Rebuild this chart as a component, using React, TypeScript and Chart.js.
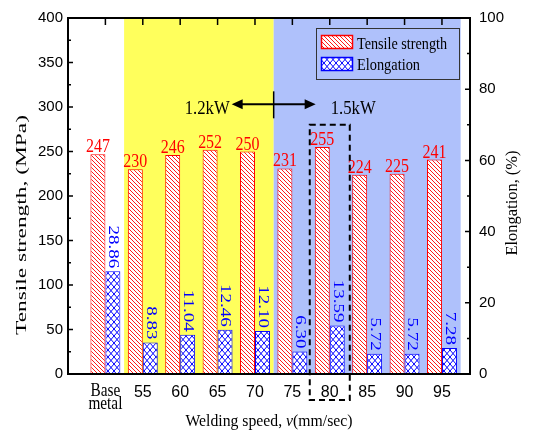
import React, { useEffect, useRef } from 'react';
import { Chart, registerables } from 'chart.js';

Chart.register(...registerables);

// ---------------- data ----------------
const categories = ['Base metal', '55', '60', '65', '70', '75', '80', '85', '90', '95'];
const tensileStrength = [247, 230, 246, 252, 250, 231, 255, 224, 225, 241];
const elongation = [28.86, 8.83, 11.04, 12.46, 12.1, 6.3, 13.59, 5.72, 5.72, 7.28];
const tensileLabels = ['247', '230', '246', '252', '250', '231', '255', '224', '225', '241'];
const elongationLabels = ['28.86', '8.83', '11.04', '12.46', '12.10', '6.30', '13.59', '5.72', '5.72', '7.28'];
const leftAxis = { min: 0, max: 400, step: 50 };
const rightAxis = { min: 0, max: 100, step: 20 };
const powerLabels = ['1.2kW', '1.5kW'];
const yellowSpan = [0.5, 4.5]; // category index span (55..70)
const blueSpan = [4.5, 9.5]; // category index span (75..95)
const highlightIndex = 6; // 80 mm/sec
const seriesNames = ['Tensile strength', 'Elongation'];

// ---------------- style ----------------
const SERIF = "'Liberation Serif', 'Times New Roman', serif";
const SANS = "'Liberation Sans', Arial, sans-serif";
const RED = '#FF0000';
const BLUE = '#0000FF';
const YELLOW_BG = '#FFFF5C';
const BLUE_BG = '#AFC1FB';

function makeHatch(color: string) {
  const s = 4;
  const c = document.createElement('canvas');
  c.width = s; c.height = s;
  const g = c.getContext('2d')!;
  g.fillStyle = '#fff';
  g.fillRect(0, 0, s, s);
  g.strokeStyle = color;
  g.lineWidth = 0.9;
  g.beginPath();
  for (const d of [-s, 0, s]) {
    g.moveTo(-1 + d, -1);
    g.lineTo(s + 1 + d, s + 1);
  }
  g.stroke();
  return g.createPattern(c, 'repeat')!;
}

function makeCross(color: string) {
  const w = 6, h = 7;
  const c = document.createElement('canvas');
  c.width = w; c.height = h;
  const g = c.getContext('2d')!;
  g.fillStyle = '#fff';
  g.fillRect(0, 0, w, h);
  g.strokeStyle = color;
  g.lineWidth = 1;
  g.beginPath();
  for (const dx of [-w, 0, w]) {
    for (const dy of [-h, 0, h]) {
      g.moveTo(dx, dy); g.lineTo(dx + w, dy + h);
      g.moveTo(dx + w, dy); g.lineTo(dx, dy + h);
    }
  }
  g.stroke();
  return g.createPattern(c, 'repeat')!;
}

type TxtOpt = {
  font: string; color?: string; align?: CanvasTextAlign; baseline?: CanvasTextBaseline;
  rot?: number; sx?: number; sy?: number; fit?: number;
};
function txt(ctx: CanvasRenderingContext2D, s: string, x: number, y: number, o: TxtOpt) {
  ctx.save();
  ctx.translate(x, y);
  if (o.rot) ctx.rotate(o.rot);
  ctx.font = o.font;
  let sx = o.sx ?? 1;
  if (o.fit) sx = o.fit / ctx.measureText(s).width;
  ctx.scale(sx, o.sy ?? 1);
  ctx.textAlign = o.align ?? 'center';
  ctx.textBaseline = o.baseline ?? 'alphabetic';
  ctx.fillStyle = o.color ?? '#000';
  ctx.fillText(s, 0, 0);
  ctx.restore();
}

export default function App() {
  const ref = useRef<HTMLCanvasElement>(null);

  useEffect(() => {
    if (!ref.current) return;
    const redPat = makeHatch(RED);
    const bluePat = makeCross(BLUE);

    const bgPlugin = {
      id: 'bg',
      beforeDatasetsDraw(chart: any) {
        const { ctx, chartArea: a, scales } = chart;
        const x = scales.x;
        ctx.save();
        ctx.fillStyle = YELLOW_BG;
        const y0 = x.getPixelForValue(yellowSpan[0]);
        const y1 = x.getPixelForValue(yellowSpan[1]);
        ctx.fillRect(y0, a.top, y1 - y0, a.bottom - a.top);
        ctx.fillStyle = BLUE_BG;
        const b0 = x.getPixelForValue(blueSpan[0]);
        const b1 = x.getPixelForValue(blueSpan[1]);
        ctx.fillRect(b0, a.top, b1 - b0, a.bottom - a.top);
        ctx.restore();
      },
    };

    const decoPlugin = {
      id: 'deco',
      afterDatasetsDraw(chart: any) {
        const { ctx, chartArea: a, scales } = chart;
        const x = scales.x, y = scales.y, y2 = scales.y2;
        ctx.save();

        // frame
        ctx.strokeStyle = '#000';
        ctx.lineWidth = 2;
        ctx.beginPath();
        ctx.rect(a.left, a.top, a.right - a.left, a.bottom - a.top);
        ctx.stroke();

        // ticks
        ctx.lineWidth = 1.5;
        ctx.beginPath();
        for (let v = leftAxis.min; v <= leftAxis.max; v += leftAxis.step / 2) {
          const p = y.getPixelForValue(v);
          const len = v % leftAxis.step === 0 ? 5 : 3;
          ctx.moveTo(a.left, p); ctx.lineTo(a.left + len, p);
        }
        for (let v = rightAxis.min; v <= rightAxis.max; v += rightAxis.step / 2) {
          const p = y2.getPixelForValue(v);
          const len = v % rightAxis.step === 0 ? 5 : 3;
          ctx.moveTo(a.right, p); ctx.lineTo(a.right - len, p);
        }
        categories.forEach((_, i) => {
          const p = x.getPixelForValue(i);
          ctx.moveTo(p, a.top); ctx.lineTo(p, a.top + 7);
        });
        ctx.stroke();

        // value labels
        const m0 = chart.getDatasetMeta(0);
        const m1 = chart.getDatasetMeta(1);
        m0.data.forEach((bar: any, i: number) => {
          txt(ctx, tensileLabels[i], bar.x, bar.y - 2, { font: `19px ${SERIF}`, color: RED, sx: 0.84 });
        });
        m1.data.forEach((bar: any, i: number) => {
          txt(ctx, elongationLabels[i], bar.x, bar.y - 3, {
            font: `19px ${SERIF}`, color: BLUE, rot: Math.PI / 2, align: 'right', baseline: 'middle', sx: 1, sy: 0.72,
          });
        });

        // power arrow
        const bx = x.getPixelForValue(yellowSpan[1]);
        const ay = y.getPixelForValue(303);
        ctx.strokeStyle = '#000';
        ctx.fillStyle = '#000';
        ctx.lineWidth = 2;
        ctx.beginPath();
        ctx.moveTo(bx - 34, ay); ctx.lineTo(bx + 34, ay);
        ctx.stroke();
        ctx.beginPath();
        ctx.moveTo(bx - 42, ay); ctx.lineTo(bx - 31, ay - 5); ctx.lineTo(bx - 31, ay + 5); ctx.closePath();
        ctx.moveTo(bx + 42, ay); ctx.lineTo(bx + 31, ay - 5); ctx.lineTo(bx + 31, ay + 5); ctx.closePath();
        ctx.fill();
        ctx.lineWidth = 1.5;
        ctx.beginPath();
        ctx.moveTo(bx, ay - 13); ctx.lineTo(bx, ay + 14);
        ctx.stroke();
        txt(ctx, powerLabels[0], bx - 44, ay + 10, { font: `19px ${SERIF}`, align: 'right', fit: 45 });
        txt(ctx, powerLabels[1], bx + 57, ay + 10, { font: `19px ${SERIF}`, align: 'left', fit: 45 });

        // dashed highlight box
        const hx0 = x.getPixelForValue(highlightIndex - 0.535);
        const hx1 = x.getPixelForValue(highlightIndex + 0.535);
        const hy0 = y.getPixelForValue(280);
        const hy1 = a.bottom + 26;
        ctx.lineWidth = 2;
        ctx.setLineDash([6, 4]);
        ctx.strokeRect(hx0, hy0, hx1 - hx0, hy1 - hy0);
        ctx.setLineDash([]);

        // legend
        ctx.lineWidth = 1;
        ctx.strokeStyle = '#333';
        ctx.strokeRect(316.5, 28.5, 143, 51);
        const sw = [
          { pat: redPat, col: RED, y: 35 },
          { pat: bluePat, col: BLUE, y: 57 },
        ];
        sw.forEach((s) => {
          ctx.fillStyle = s.pat;
          ctx.fillRect(321, s.y, 32, 14);
          ctx.strokeStyle = s.col;
          ctx.lineWidth = 1.5;
          ctx.strokeRect(321.5, s.y + 0.5, 31, 13);
        });
        txt(ctx, seriesNames[0], 357, 48.5, { font: `17px ${SERIF}`, align: 'left', fit: 90 });
        txt(ctx, seriesNames[1], 357, 69.5, { font: `17px ${SERIF}`, align: 'left', fit: 63 });

        // x tick labels
        categories.forEach((c, i) => {
          const p = x.getPixelForValue(i);
          if (c.includes(' ')) {
            const [l1, l2] = c.split(' ');
            txt(ctx, l1, p, 396, { font: `18px ${SERIF}`, sx: 0.85 });
            txt(ctx, l2, p, 409, { font: `18px ${SERIF}`, sx: 0.85 });
          } else {
            txt(ctx, c, p, 397, { font: `16px ${SANS}` });
          }
        });

        // axis titles
        txt(ctx, 'Tensile strength, (MPa)', 22, 225, {
          font: `18px ${SERIF}`, rot: -Math.PI / 2, baseline: 'middle', fit: 220, sy: 0.82,
        });
        txt(ctx, 'Elongation, (%)', 513, 203, {
          font: `17px ${SERIF}`, rot: -Math.PI / 2, baseline: 'middle', fit: 105,
        });

        // x title with italic v
        const parts = [
          { s: 'Welding speed, ', f: `17px ${SERIF}` },
          { s: 'v', f: `italic 17px ${SERIF}` },
          { s: '(mm/sec)', f: `17px ${SERIF}` },
        ];
        let total = 0;
        const widths = parts.map((p) => { ctx.font = p.f; const w = ctx.measureText(p.s).width; total += w; return w; });
        const sc = 167 / total;
        ctx.save();
        ctx.translate((a.left + a.right) / 2, 426);
        ctx.scale(sc, 1);
        ctx.fillStyle = '#000';
        ctx.textAlign = 'left';
        ctx.textBaseline = 'alphabetic';
        let cx = -total / 2;
        parts.forEach((p, i) => { ctx.font = p.f; ctx.fillText(p.s, cx, 0); cx += widths[i]; });
        ctx.restore();

        ctx.restore();
      },
    };

    const chart = new Chart(ref.current, {
      type: 'bar',
      data: {
        datasets: [
          {
            label: seriesNames[0],
            data: tensileStrength.map((v, i) => ({ x: i, y: v })),
            backgroundColor: redPat,
            borderColor: RED,
            borderWidth: 1,
            yAxisID: 'y',
          },
          {
            label: seriesNames[1],
            data: elongation.map((v, i) => ({ x: i, y: v })),
            backgroundColor: bluePat,
            borderColor: BLUE,
            borderWidth: 1,
            yAxisID: 'y2',
          },
        ] as any,
      },
      options: {
        responsive: true,
        maintainAspectRatio: false,
        animation: false,
        events: [],
        layout: { padding: { top: 16, left: 0, right: 0, bottom: 0 } },
        datasets: { bar: { categoryPercentage: 0.8, barPercentage: 1 } } as any,
        plugins: { legend: { display: false }, tooltip: { enabled: false } },
        scales: {
          x: {
            type: 'linear',
            min: -1,
            max: 9.75,
            offset: false,
            grid: { display: false, drawTicks: false },
            border: { display: false },
            ticks: { display: false },
            afterFit: (s: any) => { s.height = 57; },
          } as any,
          y: {
            position: 'left',
            min: leftAxis.min,
            max: leftAxis.max,
            ticks: { stepSize: leftAxis.step, font: { family: SANS, size: 15 }, color: '#000', padding: 5 },
            grid: { display: false, drawTicks: false },
            border: { display: false },
            afterFit: (s: any) => { s.width = 68; },
          } as any,
          y2: {
            position: 'right',
            min: rightAxis.min,
            max: rightAxis.max,
            ticks: { stepSize: rightAxis.step, font: { family: SANS, size: 15 }, color: '#000', padding: 9 },
            grid: { display: false, drawTicks: false },
            border: { display: false },
            afterFit: (s: any) => { s.width = 65; },
          } as any,
        },
      },
      plugins: [bgPlugin, decoPlugin],
    });
    return () => chart.destroy();
  }, []);

  return (
    <div style={{ position: 'absolute', left: 0, top: 0, width: 535, height: 431, background: '#fff' }}>
      <canvas ref={ref} />
    </div>
  );
}
